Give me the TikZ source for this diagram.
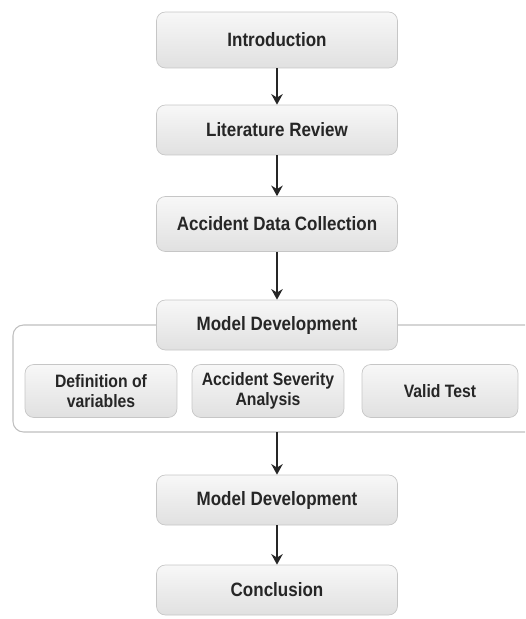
\documentclass[tikz,border=0pt]{standalone}
\usepackage{fontspec}
\usepackage{tikz}
\usetikzlibrary{arrows.meta}
\newfontfamily\boxfont{Liberation Sans}[FakeStretch=0.88]

\tikzset{
  stage/.style={draw=gray!45, rounded corners=5pt, top color=gray!6, bottom color=gray!24,
    minimum width=4.82cm, minimum height=1cm, align=center,
    font=\boxfont\bfseries\fontsize{11}{11.5}\selectfont, text=black!85},
  substage/.style={stage, minimum width=3.04cm, minimum height=1.06cm,
    font=\boxfont\bfseries\fontsize{10.2}{11}\selectfont},
  flow/.style={-{Stealth[length=6pt,width=6.5pt]}, line width=1.2pt, black!85},
}

\begin{document}
\begin{tikzpicture}[x=0.02cm, y=-0.02cm]
  \useasboundingbox (0,0) rectangle (525,619);
  % frame behind the model stage
  \draw[gray!50, line width=0.6pt, rounded corners=6pt]
    (525,325) -- (13,325) -- (13,432) -- (525,432);
  \coordinate (frameS) at (277,432);

  \node[stage, minimum height=1.12cm] (intro) at (277,40) {Introduction};
  \node[stage] (review) at (277,130) {Literature Review};
  \node[stage, minimum height=1.1cm] (data) at (277,224) {Accident Data Collection};
  \node[stage] (model) at (277,325) {Model Development};

  \node[substage] (vars) at (101,391) {Definition of\\variables};
  \node[substage] (severity) at (268,391) {Accident Severity\\Analysis};
  \node[substage, minimum width=3.12cm] (valid) at (440,391) {Valid Test};

  \node[stage] (model2) at (277,500) {Model Development};
  \node[stage] (concl) at (277,590) {Conclusion};

  \draw[flow] (intro) -- (review);
  \draw[flow] (review) -- (data);
  \draw[flow] (data) -- (model);
  \draw[flow] (frameS) -- (model2);
  \draw[flow] (model2) -- (concl);
\end{tikzpicture}
\end{document}
